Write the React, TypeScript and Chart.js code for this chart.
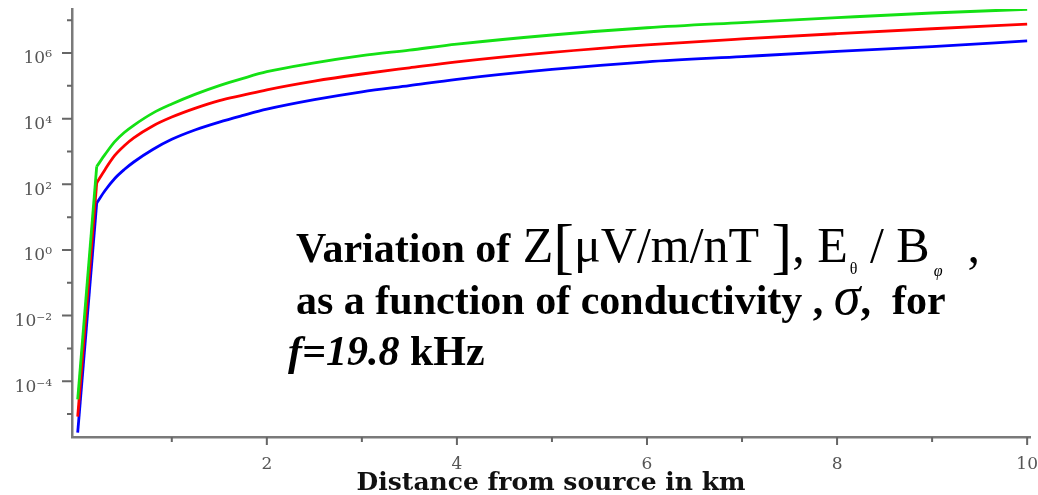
import React, { useEffect, useRef } from "react";
import { Chart, registerables } from "chart.js";

Chart.register(...registerables);

// Distance from source (km)
const xDistanceKm = [0.01, 0.21, 0.3, 0.4, 0.5, 0.6, 0.8, 1.0, 1.25, 1.5, 1.75, 2.0, 2.5, 3.0, 3.5, 4.0, 5.0, 6.0, 7.0, 8.0, 9.0, 10.0];
// Z = E_theta / B_phi  [µV/m/nT] for three conductivities
const zGreen = [2.8e-5, 3.5e2, 8.3e2, 2.0e3, 3.8e3, 6.3e3, 1.48e4, 2.8e4, 5.6e4, 1.02e5, 1.7e5, 2.7e5, 5.0e5, 8.3e5, 1.23e6, 1.86e6, 3.55e6, 5.9e6, 8.5e6, 1.2e7, 1.66e7, 2.15e7];
const zRed = [8.3e-6, 1.1e2, 2.9e2, 7.6e2, 1.5e3, 2.6e3, 6.0e3, 1.12e4, 2.1e4, 3.55e4, 5.2e4, 7.6e4, 1.4e5, 2.3e5, 3.55e5, 5.4e5, 1.05e6, 1.78e6, 2.7e6, 3.9e6, 5.5e6, 7.6e6];
const zBlue = [2.7e-6, 27, 66, 151, 282, 479, 1.15e3, 2.35e3, 4.6e3, 7.9e3, 1.26e4, 1.95e4, 3.8e4, 6.6e4, 1.02e5, 1.58e5, 3.16e5, 5.4e5, 7.8e5, 1.12e6, 1.58e6, 2.34e6];

// Tick values and labels
const xTickValues = [1, 2, 3, 4, 5, 6, 7, 8, 9, 10];
const xTickLabels = ["", "2", "", "4", "", "6", "", "8", "", "10"];
const yTickValues = [1e-5, 1e-4, 1e-3, 1e-2, 1e-1, 1e0, 1e1, 1e2, 1e3, 1e4, 1e5, 1e6, 1e7];
const yTickLabels = ["", "10⁻⁴", "", "10⁻²", "", "10⁰", "", "10²", "", "10⁴", "", "10⁶", ""];

const xTitle = "Distance from source in km";

const AXIS_COLOR = "#7a7a7a";

const tickPlugin = {
  id: "customTicks",
  afterDraw(chart: any) {
    const { ctx, chartArea } = chart;
    const xs = chart.scales.x;
    const ys = chart.scales.y;
    ctx.save();
    ctx.strokeStyle = "#666";
    ctx.lineWidth = 2;
    ctx.beginPath();
    yTickValues.forEach((v, i) => {
      const py = ys.getPixelForValue(v);
      const len = yTickLabels[i] ? 10 : 5;
      ctx.moveTo(chartArea.left - len, py);
      ctx.lineTo(chartArea.left, py);
    });
    xTickValues.forEach((v, i) => {
      const px = xs.getPixelForValue(v);
      const len = xTickLabels[i] ? 8 : 5;
      ctx.moveTo(px, chartArea.bottom);
      ctx.lineTo(px, chartArea.bottom + len);
    });
    ctx.stroke();
    ctx.restore();
  },
};

const annotationPlugin = {
  id: "annotationText",
  afterDraw(chart: any) {
    const ctx = chart.ctx;
    ctx.save();
    ctx.fillStyle = "#000";
    ctx.textBaseline = "alphabetic";
    ctx.textAlign = "left";
    const draw = (text: string, x: number, y: number, font: string) => {
      ctx.font = font;
      ctx.fillText(text, x, y);
      return x + ctx.measureText(text).width;
    };
    const bold = 'bold 42px "Liberation Serif"';
    const reg = '50px "Liberation Serif"';
    const brk = '62px "Liberation Serif"';
    const sub = '16px "Liberation Serif"';
    const subIt = 'italic 16px "Liberation Serif"';

    // line 1
    const y1 = 262;
    let x = draw("Variation of ", 296, y1, bold);
    x = draw("Z", x + 2, y1, reg);
    x = draw("[", x, y1 + 5, brk);
    x = draw("μV/m/nT ", x, y1, reg);
    x = draw("]", x, y1 + 5, brk);
    x = draw(", E", x, y1, reg);
    x = draw("θ", x + 2, y1 + 12, sub);
    x = draw(" / B", x, y1, reg);
    x = draw("φ", x + 4, y1 + 14, subIt);
    draw("  ,", x, y1, reg);

    // line 2
    const y2 = 314;
    x = draw("as a function of conductivity , ", 296, y2, bold);
    x = draw("σ", x, y2, 'italic 54px "Liberation Serif"');
    draw(",  for", x, y2, bold);

    // line 3
    const y3 = 365;
    x = draw("f=19.8", 288, y3, 'italic bold 42px "Liberation Serif"');
    draw(" kHz", x, y3, bold);
    ctx.restore();
  },
};

export default function App() {
  const canvasRef = useRef<HTMLCanvasElement | null>(null);

  useEffect(() => {
    if (!canvasRef.current) return;
    const pts = (vals: number[], from: number, to: number) =>
      xDistanceKm.slice(from, to).map((x, i) => ({ x, y: vals[from + i] }));
    const n = xDistanceKm.length;
    const series = [
      { vals: zGreen, color: "rgb(20,225,20)" },
      { vals: zRed, color: "rgb(255,0,0)" },
      { vals: zBlue, color: "rgb(0,0,255)" },
    ];
    const datasets: any[] = [];
    series.forEach((s) => {
      // steep initial rise (straight segment)
      datasets.push({ data: pts(s.vals, 0, 2), borderColor: s.color, borderWidth: 2.8, pointRadius: 0, tension: 0 });
      // smooth remainder
      datasets.push({ data: pts(s.vals, 1, n), borderColor: s.color, borderWidth: 2.8, pointRadius: 0, cubicInterpolationMode: "monotone" });
    });
    const chart = new Chart(canvasRef.current, {
      type: "line",
      data: { datasets },
      options: {
        responsive: false,
        animation: false,
        events: [],
        layout: { padding: { left: 0, top: 9, right: 8, bottom: 0 } },
        plugins: { legend: { display: false }, tooltip: { enabled: false }, title: { display: false } },
        scales: {
          x: {
            type: "linear",
            min: -0.05,
            max: 10.03,
            grid: { display: false, drawTicks: false },
            border: { display: true, color: AXIS_COLOR, width: 2.5 },
            afterBuildTicks: (s: any) => {
              s.ticks = xTickValues.map((v) => ({ value: v }));
            },
            afterFit: (s: any) => {
              s.height = 58;
              s.paddingLeft = 0;
              s.paddingRight = 0;
            },
            ticks: {
              autoSkip: false,
              maxRotation: 0,
              padding: 17,
              color: "#555",
              font: { family: '"DejaVu Serif"', size: 17 },
              callback: (_v: any, i: number) => xTickLabels[i],
            },
            title: {
              display: true,
              text: xTitle,
              color: "#111",
              font: { family: '"DejaVu Serif"', size: 25, weight: "bold", lineHeight: 0.9 },
              padding: { top: 0, bottom: 0 },
            },
          },
          y: {
            type: "logarithmic",
            min: 2.0e-6,
            max: 2.2e7,
            grid: { display: false, drawTicks: false },
            border: { display: true, color: AXIS_COLOR, width: 2.5 },
            afterBuildTicks: (s: any) => {
              s.ticks = yTickValues.map((v) => ({ value: v }));
            },
            afterFit: (s: any) => {
              s.width = 72;
              s.paddingTop = 0;
              s.paddingBottom = 0;
            },
            ticks: {
              autoSkip: false,
              padding: 20,
              labelOffset: 6,
              color: "#555",
              font: { family: '"DejaVu Serif"', size: 17 },
              callback: (_v: any, i: number) => yTickLabels[i],
            },
          },
        },
      },
      plugins: [tickPlugin, annotationPlugin],
    });
    return () => chart.destroy();
  }, []);

  return (
    <div style={{ position: "absolute", left: 0, top: 0, width: 1038, height: 495, background: "#fff" }}>
      <canvas ref={canvasRef} width={1038} height={495} />
    </div>
  );
}
